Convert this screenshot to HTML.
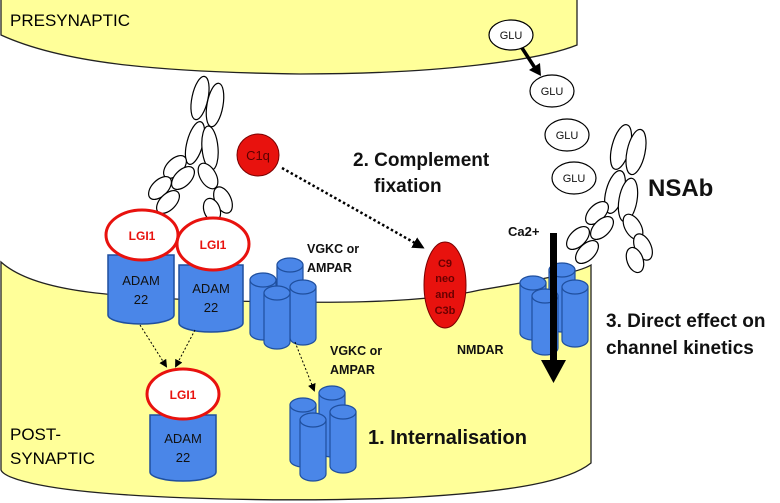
<!DOCTYPE html>
<html><head><meta charset="utf-8"><style>
html,body{margin:0;padding:0;background:#fff}
svg{display:block}
text{font-family:"Liberation Sans",sans-serif}
</style></head><body>
<svg width="780" height="503" viewBox="0 0 780 503" xmlns="http://www.w3.org/2000/svg">
<defs>
<marker id="ah" markerWidth="8" markerHeight="8" refX="6" refY="4" orient="auto" markerUnits="userSpaceOnUse"><path d="M0,0 L8,4 L0,8 Z" fill="#000"/></marker>
<marker id="ah2" markerWidth="12" markerHeight="12" refX="9" refY="6" orient="auto" markerUnits="userSpaceOnUse"><path d="M0,0 L12,6 L0,12 Z" fill="#000"/></marker>
</defs>
<!-- presynaptic -->
<path d="M1,-2 L1,35 C 60,62 150,72 300,74 C 440,74 540,60 577,45 L577,-2 Z" fill="#ffff99" stroke="#222" stroke-width="1.3"/>
<text x="10" y="26" font-size="17">PRESYNAPTIC</text>
<!-- postsynaptic -->
<path d="M1,262 C 30,288 90,296 200,300 C 320,304 420,304 480,290 C 540,280 580,272 591,265 L591,463 C 570,480 520,492 400,498 C 250,503 100,497 40,485 C 15,480 3,475 1,470 Z" fill="#ffff99" stroke="#222" stroke-width="1.3"/>
<text x="10" y="440" font-size="17">POST-</text>
<text x="10" y="464" font-size="17">SYNAPTIC</text>

<!-- left antibody -->
<g fill="#fff" stroke="#000" stroke-width="1.2">
<ellipse cx="200" cy="98" rx="8" ry="22" transform="rotate(12 200 98)"/>
<ellipse cx="215" cy="105" rx="8" ry="22" transform="rotate(10 215 105)"/>
<ellipse cx="195" cy="143" rx="8" ry="22" transform="rotate(15 195 143)"/>
<ellipse cx="210" cy="148" rx="8" ry="22" transform="rotate(-5 210 148)"/>
<ellipse cx="175" cy="167" rx="8" ry="14" transform="rotate(45 175 167)"/>
<ellipse cx="183" cy="178" rx="8" ry="14" transform="rotate(45 183 178)"/>
<ellipse cx="160" cy="188" rx="8" ry="14" transform="rotate(45 160 188)"/>
<ellipse cx="168" cy="202" rx="8" ry="14" transform="rotate(45 168 202)"/>
<ellipse cx="208" cy="176" rx="8" ry="14" transform="rotate(-30 208 176)"/>
<ellipse cx="223" cy="200" rx="8" ry="14" transform="rotate(-25 223 200)"/>
<ellipse cx="212" cy="210" rx="8" ry="12" transform="rotate(-20 212 210)"/>
</g>

<!-- ADAM22 cylinders -->
<g fill="#4a86e8" stroke="#1f4f9e" stroke-width="1.5">
<path d="M108,255 L108,315 A33,9 0 0 0 174,315 L174,255 Z"/>
<path d="M179,265 L179,323 A32,9 0 0 0 243,323 L243,265 Z"/>
<path d="M150,415 L150,472 A33,9 0 0 0 216,472 L216,415 Z"/>
</g>
<g fill="#fff" stroke="#e8120e" stroke-width="3">
<ellipse cx="142" cy="235" rx="36" ry="25"/>
<ellipse cx="213" cy="244" rx="36" ry="26"/>
<ellipse cx="183" cy="394" rx="36" ry="25"/>
</g>
<g font-size="12" font-weight="bold" fill="#e8120e" text-anchor="middle">
<text x="142" y="240">LGI1</text><text x="213" y="249">LGI1</text><text x="183" y="399">LGI1</text>
</g>
<g font-size="13" fill="#111" text-anchor="middle">
<text x="141" y="285">ADAM</text><text x="141" y="304">22</text>
<text x="211" y="293">ADAM</text><text x="211" y="312">22</text>
<text x="183" y="443">ADAM</text><text x="183" y="462">22</text>
</g>
<line x1="140" y1="325" x2="166" y2="366" stroke="#000" stroke-width="1" stroke-dasharray="2,2" marker-end="url(#ah)"/>
<line x1="195" y1="330" x2="176" y2="366" stroke="#000" stroke-width="1" stroke-dasharray="2,2" marker-end="url(#ah)"/>

<!-- channel cylinder clusters -->
<g fill="#4a86e8" stroke="#1f4f9e" stroke-width="1.2">
<!-- top VGKC -->
<g><path d="M277,265 L277,318 A13,7 0 0 0 303,318 L303,265 Z"/><ellipse cx="290" cy="265" rx="13" ry="7"/></g>
<g><path d="M250,280 L250,333 A13,7 0 0 0 276,333 L276,280 Z"/><ellipse cx="263" cy="280" rx="13" ry="7"/></g>
<g><path d="M290,287 L290,338 A13,7 0 0 0 316,338 L316,287 Z"/><ellipse cx="303" cy="287" rx="13" ry="7"/></g>
<g><path d="M264,293 L264,342 A13,7 0 0 0 290,342 L290,293 Z"/><ellipse cx="277" cy="293" rx="13" ry="7"/></g>
<!-- lower VGKC -->
<g><path d="M319,393 L319,450 A13,7 0 0 0 345,450 L345,393 Z"/><ellipse cx="332" cy="393" rx="13" ry="7"/></g>
<g><path d="M290,405 L290,460 A13,7 0 0 0 316,460 L316,405 Z"/><ellipse cx="303" cy="405" rx="13" ry="7"/></g>
<g><path d="M330,412 L330,466 A13,7 0 0 0 356,466 L356,412 Z"/><ellipse cx="343" cy="412" rx="13" ry="7"/></g>
<g><path d="M300,420 L300,474 A13,7 0 0 0 326,474 L326,420 Z"/><ellipse cx="313" cy="420" rx="13" ry="7"/></g>
<!-- NMDAR -->
<g><path d="M549,270 L549,325 A13,7 0 0 0 575,325 L575,270 Z"/><ellipse cx="562" cy="270" rx="13" ry="7"/></g>
<g><path d="M520,283 L520,333 A13,7 0 0 0 546,333 L546,283 Z"/><ellipse cx="533" cy="283" rx="13" ry="7"/></g>
<g><path d="M562,287 L562,340 A13,7 0 0 0 588,340 L588,287 Z"/><ellipse cx="575" cy="287" rx="13" ry="7"/></g>
<g><path d="M532,296 L532,348 A13,7 0 0 0 558,348 L558,296 Z"/><ellipse cx="545" cy="296" rx="13" ry="7"/></g>
</g>
<line x1="295" y1="342" x2="314" y2="390" stroke="#000" stroke-width="1" stroke-dasharray="2,2" marker-end="url(#ah)"/>

<g font-size="12.5" font-weight="bold" fill="#111">
<text x="307" y="253">VGKC or</text><text x="307" y="272">AMPAR</text>
<text x="330" y="355">VGKC or</text><text x="330" y="374">AMPAR</text>
<text x="457" y="354">NMDAR</text>
<text x="508" y="236" font-size="13">Ca2+</text>
</g>
<!-- Ca arrow -->
<rect x="550" y="233" width="7" height="128" fill="#000"/>
<path d="M541,360 L566,360 L553.5,383 Z" fill="#000"/>

<!-- C1q -->
<circle cx="258" cy="155" r="21" fill="#e8120e" stroke="#7a0000" stroke-width="1"/>
<text x="258" y="160" font-size="13" text-anchor="middle" fill="#5a0000">C1q</text>
<line x1="282" y1="168" x2="422" y2="247" stroke="#000" stroke-width="2.5" stroke-dasharray="2.5,2.5" marker-end="url(#ah2)"/>
<ellipse cx="445" cy="285" rx="21" ry="43" fill="#e8120e" stroke="#7a0000" stroke-width="1"/>
<g font-size="11" font-weight="bold" fill="#6a0000" text-anchor="middle">
<text x="445" y="267">C9</text><text x="445" y="282">neo</text><text x="445" y="298">and</text><text x="445" y="314">C3b</text>
</g>

<!-- GLU -->
<g fill="#fff" stroke="#000" stroke-width="1.2">
<ellipse cx="511" cy="35" rx="22" ry="15"/>
<ellipse cx="552" cy="91" rx="22" ry="16"/>
<ellipse cx="567" cy="135" rx="22" ry="16"/>
<ellipse cx="574" cy="178" rx="22" ry="16"/>
</g>
<g font-size="11" fill="#111" text-anchor="middle">
<text x="511" y="39">GLU</text><text x="552" y="95">GLU</text><text x="567" y="139">GLU</text><text x="574" y="182">GLU</text>
</g>
<line x1="522" y1="48" x2="535" y2="68" stroke="#000" stroke-width="3.5"/>
<path d="M529,70 L541,76 L540,63 Z" fill="#000"/>

<!-- NSAb antibody -->
<g fill="#fff" stroke="#000" stroke-width="1.2">
<ellipse cx="621" cy="147" rx="9" ry="23" transform="rotate(15 621 147)"/>
<ellipse cx="636" cy="152" rx="9" ry="23" transform="rotate(12 636 152)"/>
<ellipse cx="615" cy="192" rx="9" ry="22" transform="rotate(15 615 192)"/>
<ellipse cx="628" cy="200" rx="9" ry="22" transform="rotate(10 628 200)"/>
<ellipse cx="597" cy="213" rx="8" ry="14" transform="rotate(45 597 213)"/>
<ellipse cx="602" cy="228" rx="8" ry="14" transform="rotate(45 602 228)"/>
<ellipse cx="578" cy="238" rx="8" ry="14" transform="rotate(45 578 238)"/>
<ellipse cx="587" cy="252" rx="8" ry="14" transform="rotate(45 587 252)"/>
<ellipse cx="633" cy="227" rx="8" ry="14" transform="rotate(-30 633 227)"/>
<ellipse cx="643" cy="247" rx="8" ry="14" transform="rotate(-25 643 247)"/>
<ellipse cx="635" cy="260" rx="8" ry="13" transform="rotate(-20 635 260)"/>
</g>

<g font-weight="bold" fill="#111">
<text x="353" y="166" font-size="19">2. Complement</text>
<text x="374" y="192" font-size="19">fixation</text>
<text x="648" y="196" font-size="24">NSAb</text>
<text x="606" y="327" font-size="19">3. Direct effect on</text>
<text x="606" y="354" font-size="19">channel kinetics</text>
<text x="368" y="444" font-size="20">1. Internalisation</text>
</g>
</svg>
</body></html>
